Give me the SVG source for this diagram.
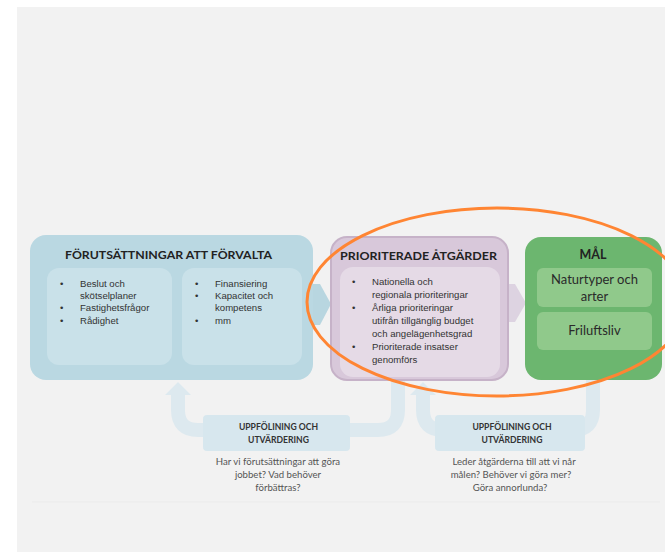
<svg xmlns="http://www.w3.org/2000/svg" width="665" height="552" viewBox="0 0 665 552">
<defs>
<style>
.title{font-family:Lato,"Open Sans",sans-serif;font-weight:bold;fill:#222;text-anchor:middle}
.bul{font-family:"Liberation Sans",Arial,sans-serif;font-size:9.6px;fill:#333}
.green{font-family:Lato,"Open Sans",sans-serif;font-size:13px;fill:#2a2a2a;text-anchor:middle}
.lt{font-family:Lato,"Open Sans",sans-serif;font-weight:bold;font-size:8.6px;fill:#333;text-anchor:middle}
.q{font-family:Lato,"Open Sans",sans-serif;font-size:9.6px;fill:#555;text-anchor:middle}
.band{fill:none;stroke:#dde9ef;stroke-width:14}
</style>
</defs>
<rect x="17" y="7" width="648" height="545" fill="#f2f2f2"/>
<line x1="32" y1="502" x2="660" y2="502" stroke="#ebebeb" stroke-width="1"/>

<g id="connectors">
  <polygon points="313,284 320,284 331,304 320,325 313,325" fill="#b8d6e0"/>
  <polygon points="508,284 515,284 526,303 515,322 508,322" fill="#ddd3e1"/>
  <path class="band" d="M398,378 V410 Q398,430 378,430 H198 Q178,430 178,410 V393"/>
  <polygon points="165,395 191,395 178,382" fill="#dde9ef"/>
  <path class="band" d="M593,378 V410 Q593,430 573,430 H443 Q423,430 423,410 V393"/>
  <polygon points="410,395 436,395 423,382" fill="#dde9ef"/>
</g>

<g id="forutsattningar">
  <rect x="30" y="235" width="283" height="145" rx="16" fill="#bad8e2"/>
  <text class="title" x="168.5" y="259" font-size="12" textLength="207" lengthAdjust="spacingAndGlyphs">FÖRUTSÄTTNINGAR ATT FÖRVALTA</text>
  <rect x="47" y="268" width="125" height="97" rx="12" fill="#c9e1e9"/>
  <rect x="182" y="268" width="120" height="97" rx="12" fill="#c9e1e9"/>
  <g class="bul">
    <text x="60" y="287">•</text><text x="80" y="287">Beslut och</text>
    <text x="80" y="299">skötselplaner</text>
    <text x="60" y="311">•</text><text x="80" y="311">Fastighetsfrågor</text>
    <text x="60" y="324">•</text><text x="80" y="324">Rådighet</text>
    <text x="195" y="287">•</text><text x="215" y="287">Finansiering</text>
    <text x="195" y="299">•</text><text x="215" y="299">Kapacitet och</text>
    <text x="215" y="311">kompetens</text>
    <text x="195" y="324">•</text><text x="215" y="324">mm</text>
  </g>
</g>

<g id="prioriterade">
  <rect x="331" y="237" width="177" height="143" rx="16" fill="#d8c8da" stroke="#c6b2c8" stroke-width="2"/>
  <text class="title" x="418.5" y="260" font-size="12" textLength="157" lengthAdjust="spacingAndGlyphs">PRIORITERADE ÅTGÄRDER</text>
  <rect x="340" y="267" width="160" height="110" rx="13" fill="#e5dae6"/>
  <g class="bul">
    <text x="352" y="285">•</text><text x="372" y="285">Nationella  och</text>
    <text x="372" y="298">regionala prioriteringar</text>
    <text x="352" y="311">•</text><text x="372" y="311">Årliga prioriteringar</text>
    <text x="372" y="324">utifrån tillgänglig budget</text>
    <text x="372" y="337">och angelägenhetsgrad</text>
    <text x="352" y="350">•</text><text x="372" y="350">Prioriterade insatser</text>
    <text x="372" y="363">genomförs</text>
  </g>
</g>

<g id="mal">
  <rect x="525" y="237" width="137" height="143" rx="16" fill="#6cb66f"/>
  <text class="title" x="593" y="259" font-size="12.5">MÅL</text>
  <rect x="537" y="268" width="115" height="39" rx="6" fill="#90c98b"/>
  <rect x="537" y="312" width="115" height="38" rx="6" fill="#90c98b"/>
  <text class="green" x="594.5" y="284">Naturtyper och</text>
  <text class="green" x="594.5" y="301">arter</text>
  <text class="green" x="594.5" y="335">Friluftsliv</text>
</g>

<g id="uppfoljning1">
  <rect x="203" y="415" width="147" height="36" rx="4" fill="#d7e7ee"/>
  <text class="lt" x="278.5" y="430">UPPFÖLINING OCH</text>
  <text class="lt" x="278.5" y="443">UTVÄRDERING</text>
  <text class="q" x="278" y="465">Har vi förutsättningar att göra</text>
  <text class="q" x="278" y="478">jobbet? Vad behöver</text>
  <text class="q" x="278" y="491">förbättras?</text>
</g>

<g id="uppfoljning2">
  <rect x="435" y="415" width="150" height="36" rx="4" fill="#d7e7ee"/>
  <text class="lt" x="512" y="430">UPPFÖLINING OCH</text>
  <text class="lt" x="512" y="443">UTVÄRDERING</text>
  <text class="q" x="514" y="465">Leder åtgärderna till att vi når</text>
  <text class="q" x="511" y="478">målen? Behöver vi göra mer?</text>
  <text class="q" x="510" y="491">Göra annorlunda?</text>
</g>

<ellipse id="highlight" cx="497" cy="302" rx="190" ry="94" fill="none" stroke="#ff8533" stroke-width="3"/>
</svg>
